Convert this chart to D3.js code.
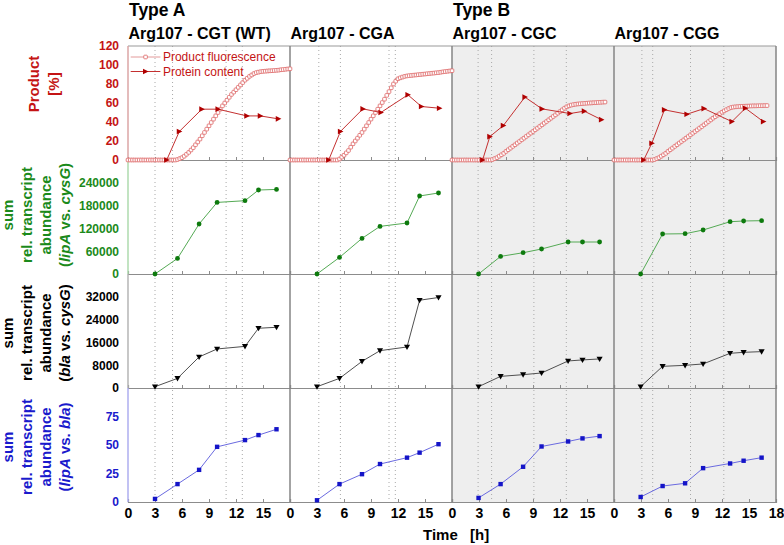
<!DOCTYPE html>
<html>
<head>
<meta charset="utf-8">
<script src="https://cdn.jsdelivr.net/npm/d3@7"></script>
<style>
  html, body { margin: 0; padding: 0; background: #fff; }
  svg { display: block; font-family: "Liberation Sans", Arial, sans-serif; }
</style>
</head>
<body>
<svg id="chart" width="784" height="545"></svg>
<script>
// ---------------- DATA ----------------
const panelNames = ["Arg107 - CGT (WT)", "Arg107 - CGA", "Arg107 - CGC", "Arg107 - CGG"];
const panelTypes = ["A", "A", "B", "B"];
const typeLabels = ["Type A", "Type B"];
const rowKeys = ["product", "lipAcysG", "blaCysG", "lipABla"];

const xTicks = [0, 3, 6, 9, 12, 15];
const xTicksLast = [0, 3, 6, 9, 12, 15, 18];
const productTicks = [0, 20, 40, 60, 80, 100, 120];
const lipACysGTicks = [0, 60000, 120000, 180000, 240000];
const blaCysGTicks = [0, 8000, 16000, 24000, 32000];
const lipABlaTicks = [0, 25, 50, 75];

// sampling times (dotted vertical lines), per panel
const samplingLines = [
  [3.0, 4.95, 10.9, 12.7],
  [3.2, 5.6, 11.0, 11.7],
  [2.9, 4.4, 9.1, 12.7],
  [3.1, 4.3, 8.5, 12.2]
];

// product fluorescence time base (h)
const fluorTime = [0,0.25,0.5,0.75,1,1.25,1.5,1.75,2,2.25,2.5,2.75,3,3.25,3.5,3.75,4,4.25,4.5,4.75,5,5.25,5.5,5.75,6,6.25,6.5,6.75,7,7.25,7.5,7.75,8,8.25,8.5,8.75,9,9.25,9.5,9.75,10,10.25,10.5,10.75,11,11.25,11.5,11.75,12,12.25,12.5,12.75,13,13.25,13.5,13.75,14,14.25,14.5,14.75,15,15.25,15.5,15.75,16,16.25,16.5,16.75,17,17.25,17.5,17.75,18];

const fluorCGT = [0,0,0,0,0,0,0,0,0,0,0,0,0,0,0,0,0,0,0,0,0,0,
  0.5,1.5,2.5,4,6,8,10.5,13,16,19,22,25.5,29,32.5,36,39.5,43,46.5,50,53.5,57,60,63,66,69,71.5,74,76.5,79,81.5,84,86,88,89.5,91,92,92.5,93,93.3,93.5,93.7,93.9,94,94.2,94.4,94.6,95,95.2,95.5,95.8,96];
const fluorCGA = [0,0,0,0,0,0,0,0,0,0,0,0,0,0,0,0,0,0,0,0,0,0,
  1,3,5,7.5,10,13.5,17,20,23,26,29,32.5,36,39.5,43,46.5,50,53.5,57,60.5,64,68,72,76,80,83,85.5,86.5,87.3,88,88.5,88.8,89,89.3,89.5,89.8,90,90.3,90.5,90.8,91,91.3,91.5,91.8,92,92.4,92.8,93.1,93.4,93.7,94];
const fluorCGC = [0,0,0,0,0,0,0,0,0,0,0,0,0,0,0,0,0,0,
  0.5,1.5,2.5,4,5.5,7,9,10.8,12.5,14.3,16,17.8,19.5,21.3,23,24.8,26.5,28.3,30,31.8,33.5,35.3,37,38.8,40.5,42.3,44,45.8,47.5,49.3,51,52.8,54.5,56,57,57.8,58.3,58.7,59,59.2,59.4,59.6,59.8,60,60.1,60.3,60.4,60.6,60.7,60.9,61];
const fluorCGG = [0,0,0,0,0,0,0,0,0,0,0,0,0,0,0,0,0,0,
  0.5,1.5,2.5,4,5.5,7,9,10.8,12.5,14.3,16,17.8,19.5,21.2,23,24.7,26.5,28.2,30,31.7,33.5,35.2,37,38.7,40.5,42.2,44,45.6,47.2,48.8,50.3,51.7,53,54.2,55.2,55.7,56,56.2,56.4,56.5,56.6,56.7,56.8,56.9,57,57,57.1,57.2,57.2,57.3,57.3];

// protein content (%)
const proteinTime = [
  [4.3, 5.7, 8.2, 10.0, 13.2, 14.7, 16.7],
  [4.3, 5.6, 8.1, 10.1, 13.1, 14.6, 16.6],
  [3.4, 4.2, 5.7, 8.1, 10.0, 13.1, 14.7, 16.6],
  [3.3, 4.2, 5.6, 8.1, 10.0, 13.1, 14.6, 16.6]
];
const proteinContent = [
  [0, 30, 53.5, 53.5, 46.4, 46.4, 43.3],
  [0, 30, 53.8, 50, 68.6, 56.3, 54.5],
  [0, 24.6, 36.2, 66.2, 53.8, 48.9, 51.4, 42.5],
  [0, 17.6, 52.8, 48.2, 54.1, 40.4, 54.5, 40.4]
];

// transcript sampling times (h)
const sampleTime = [
  [3.0, 5.5, 7.9, 9.9, 13.0, 14.5, 16.5],
  [3.0, 5.5, 8.0, 10.0, 13.0, 14.4, 16.5],
  [2.95, 5.4, 7.9, 9.95, 12.9, 14.5, 16.4],
  [2.96, 5.4, 7.9, 9.9, 12.9, 14.4, 16.4]
];
// sum rel. transcript abundance (lipA vs. cysG)
const lipACysG = [
  [0, 41000, 131600, 188400, 192900, 221000, 222600],
  [0, 43700, 93700, 125300, 134200, 205300, 213200],
  [0, 46300, 56000, 65800, 84200, 84200, 84200],
  [0, 105300, 106000, 115800, 137600, 139500, 140300]
];
// sum rel. transcript abundance (bla vs. cysG)
const blaCysG = [
  [460, 3380, 10900, 13700, 14600, 20960, 21300],
  [460, 3380, 9350, 13100, 14400, 30800, 31750],
  [460, 4080, 4680, 5270, 9490, 9850, 10200],
  [460, 7600, 7950, 8440, 12170, 12520, 12760]
];
// sum rel. transcript abundance (lipA vs. bla)
const lipABla = [
  [2.7, 15.7, 28.2, 48.4, 54.3, 58.7, 63.8],
  [1.5, 15.7, 24.4, 33.3, 38.9, 43.3, 50.7],
  [3.6, 15.7, 30.9, 48.7, 53.1, 55.8, 57.8],
  [4.4, 14.0, 16.4, 29.7, 33.8, 36.2, 38.9]
];
const fluorSeries = [fluorCGT, fluorCGA, fluorCGC, fluorCGG];

// ---------------- LAYOUT ----------------
const svg = d3.select("#chart");
const FONT = '"Liberation Sans", Arial, sans-serif';
const colX = d3.scaleBand().domain(panelNames).range([128, 776]).padding(0);
const rowY = d3.scaleBand().domain(rowKeys).range([46, 502]).padding(0);
const bw = colX.bandwidth(), bh = rowY.bandwidth();

function yScale(key, dom) {
  return d3.scaleLinear().domain(dom).range([rowY(key) + bh, rowY(key)]);
}
const yProd = yScale("product", [0, 120]);
const yLC = yScale("lipAcysG", [0, 300000]);
const yBC = yScale("blaCysG", [0, 40000]);
const yLB = yScale("lipABla", [0, 100]);

const RED = "#c41414", GREEN = "#1b8a1b", BLUE = "#1a1acc", BLACK = "#000";

// backgrounds for Type B panels
panelNames.forEach((p, i) => {
  if (panelTypes[i] === "B") {
    svg.append("rect").attr("x", colX(p)).attr("y", rowY.range()[0])
      .attr("width", bw).attr("height", rowY.range()[1] - rowY.range()[0])
      .attr("fill", "#eeeeee");
  }
});

// dotted sampling lines
panelNames.forEach((p, i) => {
  const x = d3.scaleLinear().domain([0, 18]).range([colX(p), colX(p) + bw]);
  svg.append("g").selectAll("line").data(samplingLines[i]).join("line")
    .attr("x1", d => x(d)).attr("x2", d => x(d))
    .attr("y1", rowY.range()[0]).attr("y2", rowY.range()[1])
    .attr("stroke", "#a8a8a8").attr("stroke-width", 1).attr("stroke-dasharray", "1,3");
});

// zero lines with small ticks, per row & panel
const rowScales = [yProd, yLC, yBC, yLB];
panelNames.forEach((p, i) => {
  const x = d3.scaleLinear().domain([0, 18]).range([colX(p), colX(p) + bw]);
  rowScales.forEach((ys) => {
    const g = svg.append("g").attr("transform", `translate(0,${ys(0)})`)
      .call(d3.axisBottom(x).tickValues([3, 6, 9, 12, 15]).tickSize(-3).tickFormat(""));
    g.select(".domain").attr("stroke", "#8c8c8c").attr("stroke-width", 1.2);
    g.selectAll(".tick line").attr("stroke", "#8c8c8c");
  });
});

// top border and vertical separators
svg.append("line").attr("x1", colX.range()[0]).attr("x2", colX.range()[1])
  .attr("y1", rowY.range()[0]).attr("y2", rowY.range()[0])
  .attr("stroke", "#9a9a9a").attr("stroke-width", 1.2);
panelNames.slice(1).concat(["__end"]).forEach((p) => {
  const xx = p === "__end" ? colX.range()[1] : colX(p);
  svg.append("line").attr("x1", xx).attr("x2", xx)
    .attr("y1", rowY.range()[0]).attr("y2", rowY.range()[1])
    .attr("stroke", "#858585").attr("stroke-width", 1.5);
});
// left axis lines (colored per row)
const leftCols = ["#d9a0a0", "#a8d8a8", "#b0b0b0", "#a8a8ee"];
rowKeys.forEach((k, r) => {
  svg.append("line").attr("x1", colX.range()[0]).attr("x2", colX.range()[0])
    .attr("y1", rowY(k)).attr("y2", rowY(k) + bh)
    .attr("stroke", leftCols[r]).attr("stroke-width", 1.4);
});

// ---------------- MARKS ----------------
const triRight = d3.symbol().type({ draw(ctx, size) { const s = Math.sqrt(size); ctx.moveTo(s * 0.6, 0); ctx.lineTo(-s * 0.5, -s * 0.55); ctx.lineTo(-s * 0.5, s * 0.55); ctx.closePath(); } }).size(26);
const triDown = d3.symbol().type({ draw(ctx, size) { const s = Math.sqrt(size); ctx.moveTo(0, s * 0.6); ctx.lineTo(-s * 0.6, -s * 0.45); ctx.lineTo(s * 0.6, -s * 0.45); ctx.closePath(); } }).size(26);

panelNames.forEach((p, i) => {
  const x = d3.scaleLinear().domain([0, 18]).range([colX(p), colX(p) + bw]);

  // product fluorescence
  const fl = fluorSeries[i].map((v, j) => [fluorTime[j], v]);
  svg.append("path").datum(fl)
    .attr("d", d3.line().x(d => x(d[0])).y(d => yProd(d[1])))
    .attr("fill", "none").attr("stroke", "#e39a9a").attr("stroke-width", 1);
  svg.append("g").selectAll("rect").data(fl).join("rect")
    .attr("x", d => x(d[0]) - 1.8).attr("y", d => yProd(d[1]) - 1.8)
    .attr("width", 3.6).attr("height", 3.6).attr("rx", 0.8)
    .attr("fill", "#fff").attr("stroke", "#e07070").attr("stroke-width", 0.9);

  // protein content
  const pc = proteinTime[i].map((t, j) => [t, proteinContent[i][j]]);
  svg.append("path").datum(pc)
    .attr("d", d3.line().x(d => x(d[0])).y(d => yProd(d[1])))
    .attr("fill", "none").attr("stroke", "#c43030").attr("stroke-width", 1);
  svg.append("g").selectAll("path").data(pc).join("path")
    .attr("transform", d => `translate(${x(d[0])},${yProd(d[1])})`)
    .attr("d", triRight).attr("fill", "#b00000");

  // lipA vs cysG
  const lc = sampleTime[i].map((t, j) => [t, lipACysG[i][j]]);
  svg.append("path").datum(lc)
    .attr("d", d3.line().x(d => x(d[0])).y(d => yLC(d[1])))
    .attr("fill", "none").attr("stroke", "#55aa55").attr("stroke-width", 1);
  svg.append("g").selectAll("circle").data(lc).join("circle")
    .attr("cx", d => x(d[0])).attr("cy", d => yLC(d[1])).attr("r", 2.4)
    .attr("fill", "#0d7a0d");

  // bla vs cysG
  const bc = sampleTime[i].map((t, j) => [t, blaCysG[i][j]]);
  svg.append("path").datum(bc)
    .attr("d", d3.line().x(d => x(d[0])).y(d => yBC(d[1])))
    .attr("fill", "none").attr("stroke", "#505050").attr("stroke-width", 1);
  svg.append("g").selectAll("path").data(bc).join("path")
    .attr("transform", d => `translate(${x(d[0])},${yBC(d[1])})`)
    .attr("d", triDown).attr("fill", "#000");

  // lipA vs bla
  const lb = sampleTime[i].map((t, j) => [t, lipABla[i][j]]);
  svg.append("path").datum(lb)
    .attr("d", d3.line().x(d => x(d[0])).y(d => yLB(d[1])))
    .attr("fill", "none").attr("stroke", "#6a6ae0").attr("stroke-width", 1);
  svg.append("g").selectAll("rect").data(lb).join("rect")
    .attr("x", d => x(d[0]) - 2.2).attr("y", d => yLB(d[1]) - 2.2)
    .attr("width", 4.4).attr("height", 4.4).attr("fill", "#1414c8");

  // x axis labels
  const xa = svg.append("g").attr("transform", `translate(0,${rowY.range()[1]})`)
    .call(d3.axisBottom(x).tickValues(i === panelNames.length - 1 ? xTicksLast : xTicks).tickSize(0).tickPadding(6));
  xa.select(".domain").remove();
  xa.selectAll("text").attr("font-family", FONT).attr("font-size", 14).attr("font-weight", "bold").attr("fill", "#000");

  // panel titles
  svg.append("text").attr("x", colX(p) + 0.5).attr("y", 39)
    .attr("font-family", FONT).attr("font-size", 16).attr("font-weight", "bold").text(p);
});

// type labels
typeLabels.forEach((t, k) => {
  const firstIdx = panelTypes.indexOf(t.slice(-1));
  svg.append("text").attr("x", colX(panelNames[firstIdx]) + 1).attr("y", 16)
    .attr("font-family", FONT).attr("font-size", 17.5).attr("font-weight", "bold").text(t);
});

// y axes (left)
function yAxis(ys, ticks, color, fmt) {
  const g = svg.append("g").attr("transform", `translate(${colX.range()[0]},0)`)
    .call(d3.axisLeft(ys).tickValues(ticks).tickSize(0).tickPadding(9).tickFormat(fmt || (d => d)));
  g.select(".domain").remove();
  g.selectAll("text").attr("font-family", FONT).attr("font-size", 12).attr("font-weight", "bold").attr("fill", color);
}
yAxis(yProd, productTicks, RED);
yAxis(yLC, lipACysGTicks, GREEN);
yAxis(yBC, blaCysGTicks, BLACK);
yAxis(yLB, lipABlaTicks, BLUE);

// legend
const legendItems = ["Product fluorescence", "Protein content"];
const legX = d3.scaleLinear().domain([0, 18]).range([colX(panelNames[0]), colX(panelNames[0]) + bw]);
legendItems.forEach((name, k) => {
  const ly = yProd(120) + 11 + k * 14.5;
  const x1 = legX(0.3), x2 = legX(3.6), xm = (x1 + x2) / 2;
  svg.append("line").attr("x1", x1).attr("x2", x2).attr("y1", ly).attr("y2", ly)
    .attr("stroke", k === 0 ? "#e39a9a" : "#c43030").attr("stroke-width", 1);
  if (k === 0) {
    svg.append("rect").attr("x", xm - 1.8).attr("y", ly - 1.8).attr("width", 3.6).attr("height", 3.6).attr("rx", 0.8)
      .attr("fill", "#fff").attr("stroke", "#e07070").attr("stroke-width", 0.9);
  } else {
    svg.append("path").attr("transform", `translate(${xm},${ly})`).attr("d", triRight).attr("fill", "#b00000");
  }
  svg.append("text").attr("x", x2 + 2.5).attr("y", ly + 4.3)
    .attr("font-family", FONT).attr("font-size", 12).attr("fill", RED).text(name);
});

// row titles (rotated)
function rowTitle(lines, key, color, xs, dy) {
  const cy = rowY(key) + bh / 2 + (dy || 0);
  lines.forEach((parts, k) => {
    const t = svg.append("text").attr("transform", `translate(${xs[k]},${cy}) rotate(-90)`)
      .attr("text-anchor", "middle").attr("font-family", FONT).attr("font-size", 15)
      .attr("font-weight", "bold").attr("fill", color);
    parts.forEach(pt => {
      t.append("tspan").attr("font-style", pt[1] ? "italic" : null).text(pt[0]);
    });
  });
}
rowTitle([[["Product"]], [["[%]"]]], "product", RED, [38.5, 58.5], -19);
const xsT = [13, 32, 51, 70];
rowTitle([[["sum"]], [["rel. transcript"]], [["abundance"]], [["("], ["lipA", 1], [" vs. "], ["cysG", 1], [")"]]], "lipAcysG", GREEN, xsT, -2);
rowTitle([[["sum"]], [["rel. transcript"]], [["abundance"]], [["("], ["bla", 1], [" vs. "], ["cysG", 1], [")"]]], "blaCysG", BLACK, xsT, 2);
rowTitle([[["sum"]], [["rel. transcript"]], [["abundance"]], [["("], ["lipA", 1], [" vs. "], ["bla", 1], [")"]]], "lipABla", BLUE, xsT, 2);

// x-axis title
const xt = svg.append("text").attr("y", 540).attr("font-family", FONT).attr("font-size", 15).attr("font-weight", "bold");
xt.append("tspan").attr("x", 423).text("Time");
xt.append("tspan").attr("x", 470).text("[h]");
</script>
</body>
</html>
